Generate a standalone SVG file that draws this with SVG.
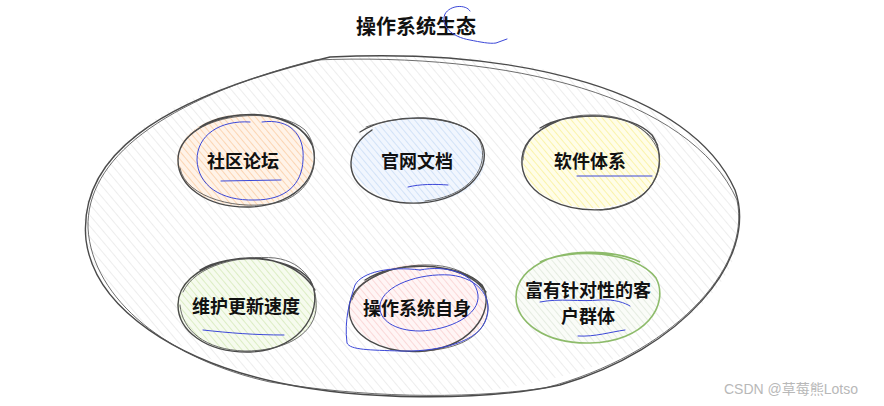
<svg xmlns="http://www.w3.org/2000/svg" width="884" height="406" viewBox="0 0 884 406">
<style>
  .lbl{font-family:"Noto Sans CJK SC","Noto Sans",sans-serif;font-size:18px;font-weight:700;fill:#111;text-anchor:middle;dominant-baseline:central}
  .title{font-family:"Noto Sans CJK SC","Noto Sans",sans-serif;font-size:20px;font-weight:700;fill:#111;text-anchor:middle;dominant-baseline:central}
  .wm{font-family:"Liberation Sans","Noto Sans CJK SC",sans-serif;font-size:14px;fill:#b8b8b8}
  .sk{fill:none;stroke:#4a4a4a;stroke-width:1.4;stroke-linecap:round}
  .sk2{fill:none;stroke:#555;stroke-width:1;stroke-linecap:round;opacity:.85}
  .ink{fill:none;stroke:#3c48d8;stroke-width:1;stroke-linecap:round;stroke-linejoin:round}
</style>
<defs>
  <pattern id="hGray" width="7" height="7" patternUnits="userSpaceOnUse" patternTransform="rotate(-40)">
    <rect width="7" height="7" fill="#fff"/><line x1="0" y1="0" x2="0" y2="7" stroke="#e4e4e4" stroke-width="1.3"/>
  </pattern>
  <pattern id="hOrange" width="5" height="5" patternUnits="userSpaceOnUse" patternTransform="rotate(-40)">
    <rect width="5" height="5" fill="#fff3e8"/><line x1="0" y1="0" x2="0" y2="5" stroke="#fbd2ad" stroke-width="1.8"/>
  </pattern>
  <pattern id="hBlue" width="5" height="5" patternUnits="userSpaceOnUse" patternTransform="rotate(-40)">
    <rect width="5" height="5" fill="#f1f6fe"/><line x1="0" y1="0" x2="0" y2="5" stroke="#cfe0f7" stroke-width="1.8"/>
  </pattern>
  <pattern id="hYellow" width="5" height="5" patternUnits="userSpaceOnUse" patternTransform="rotate(-40)">
    <rect width="5" height="5" fill="#fffde8"/><line x1="0" y1="0" x2="0" y2="5" stroke="#faf3aa" stroke-width="2"/>
  </pattern>
  <pattern id="hGreen" width="5" height="5" patternUnits="userSpaceOnUse" patternTransform="rotate(-40)">
    <rect width="5" height="5" fill="#f6fbee"/><line x1="0" y1="0" x2="0" y2="5" stroke="#d9ecbf" stroke-width="1.8"/>
  </pattern>
  <pattern id="hPink" width="5" height="5" patternUnits="userSpaceOnUse" patternTransform="rotate(-40)">
    <rect width="5" height="5" fill="#fff5f5"/><line x1="0" y1="0" x2="0" y2="5" stroke="#fad5d5" stroke-width="1.8"/>
  </pattern>
  <pattern id="hGreenGray" width="5" height="5" patternUnits="userSpaceOnUse" patternTransform="rotate(-40)">
    <rect width="5" height="5" fill="#fafcf8"/><line x1="0" y1="0" x2="0" y2="5" stroke="#dfe7da" stroke-width="1.5"/>
  </pattern>
</defs>

<text class="title" x="416" y="25">操作系统生态</text>

<g id="ecosystem">
  <ellipse cx="412" cy="225" rx="328" ry="170" fill="url(#hGray)" stroke="none"/>
  <path class="sk" d="M 330,57 C 520,48 690,90 735,190 C 760,260 680,350 560,385 C 480,402 360,400 280,383 C 180,362 95,310 86,240 C 78,160 150,100 330,57"/>
  <path class="sk2" d="M 315,60 C 510,52 690,96 737,200 C 752,270 670,355 545,388 C 460,400 360,397 270,382 C 170,360 92,300 88,228 C 86,160 160,100 315,60"/>
</g>

<g id="n1">
  <ellipse cx="245" cy="160" rx="68" ry="46" fill="url(#hOrange)"/>
  <path class="sk" d="M 200,127 C 230,108 290,110 310,140 C 325,170 300,205 250,207 C 205,208 178,185 178,160 C 178,140 200,120 240,115 C 270,112 300,120 312,145"/>
  <path class="sk2" d="M 190,135 C 215,112 280,108 305,130 C 322,150 318,190 280,202 C 240,212 185,198 180,168"/>
  <text class="lbl" x="243" y="160">社区论坛</text>
</g>

<g id="n2">
  <ellipse cx="418" cy="160" rx="67" ry="43" fill="url(#hBlue)"/>
  <path class="sk" d="M 360,132 C 390,112 460,112 480,140 C 495,165 470,200 420,203 C 375,205 350,185 351,162 C 352,148 360,138 372,130"/>
  <path class="sk2" d="M 366,127 C 400,114 455,115 476,135 C 492,155 480,195 425,201"/>
  <text class="lbl" x="417" y="160">官网文档</text>
</g>

<g id="n3">
  <ellipse cx="592" cy="162" rx="69" ry="46" fill="url(#hYellow)"/>
  <path class="sk" d="M 540,128 C 570,110 630,112 652,135 C 668,158 660,200 610,209 C 565,214 525,195 522,165 C 520,145 535,130 560,120"/>
  <path class="sk2" d="M 523,160 C 523,135 555,115 590,115 C 625,114 648,128 658,150 C 665,175 648,205 600,210"/>
  <path class="sk2" d="M 572,118 C 610,112 640,120 658,145"/>
  <text class="lbl" x="590" y="160">软件体系</text>
</g>

<g id="n4">
  <ellipse cx="247" cy="305" rx="70" ry="47" fill="url(#hGreen)"/>
  <path class="sk" d="M 200,270 C 230,252 290,255 310,280 C 325,305 305,350 250,352 C 205,353 178,330 178,305 C 178,285 195,268 230,260 C 265,253 300,265 315,290"/>
  <path class="sk2" d="M 183,292 C 195,265 240,255 275,258 C 305,262 318,285 316,310 C 312,338 280,351 245,351 C 205,350 182,330 180,305"/>
  <text class="lbl" x="246" y="305">维护更新速度</text>
</g>

<g id="n5">
  <ellipse cx="418" cy="308" rx="69" ry="44" fill="url(#hPink)"/>
  <path class="sk" d="M 365,280 C 395,260 460,262 482,285 C 495,305 478,345 425,351 C 380,355 350,335 349,310 C 349,292 362,280 390,270 C 430,260 470,270 486,292"/>
  <path class="sk2" d="M 352,300 C 360,275 400,264 430,265 C 465,266 488,285 488,308 C 487,335 460,350 420,351"/>
  <text class="lbl" x="417" y="307">操作系统自身</text>
</g>

<g id="n6">
  <ellipse cx="588" cy="298" rx="72" ry="45" fill="url(#hGreenGray)"/>
  <path fill="none" stroke="#8dbb6a" stroke-width="1.6" d="M 540,262 C 570,248 635,250 656,278 C 670,305 645,342 590,343 C 545,344 516,322 516,297 C 516,280 528,268 548,259 C 580,248 620,252 640,262"/>
  <text class="lbl"><tspan x="588" y="289">富有针对性的客</tspan><tspan x="588" y="315">户群体</tspan></text>
</g>

<g id="connectors"></g>

<g id="annotations">
  <path class="ink" d="M 470,11 C 466,4 450,5 445,14 C 440,26 452,37 470,40 C 480,42 490,44 496,43 L 507,39"/>
  <path class="ink" d="M 262,122 C 290,118 305,135 303,160 C 302,185 285,200 255,200 C 220,201 198,185 197,160 C 197,135 220,120 250,122"/>
  <path class="ink" d="M 221,181 L 281,180"/>
  <path class="ink" d="M 408,187 C 420,184 435,184 448,185"/>
  <path class="ink" d="M 577,176 L 652,176"/>
  <path class="ink" d="M 203,330 C 230,333 255,335 284,335"/>
  <path class="ink" d="M 420,270 C 445,265 475,272 478,295 C 480,315 450,330 420,331 C 395,331 378,320 380,305 C 383,285 420,273 450,275 C 480,278 495,300 485,322 C 475,345 430,352 400,351 C 370,350 350,350 347,343 C 344,320 350,300 355,285 C 362,272 390,266 420,270"/>
  <path class="ink" d="M 540,302 C 560,298 580,302 600,300 C 615,299 625,303 630,306"/>
  <path class="ink" d="M 578,336 C 595,337 610,332 625,330"/>
</g>

<text class="wm" x="724" y="394">CSDN @草莓熊Lotso</text>
</svg>
